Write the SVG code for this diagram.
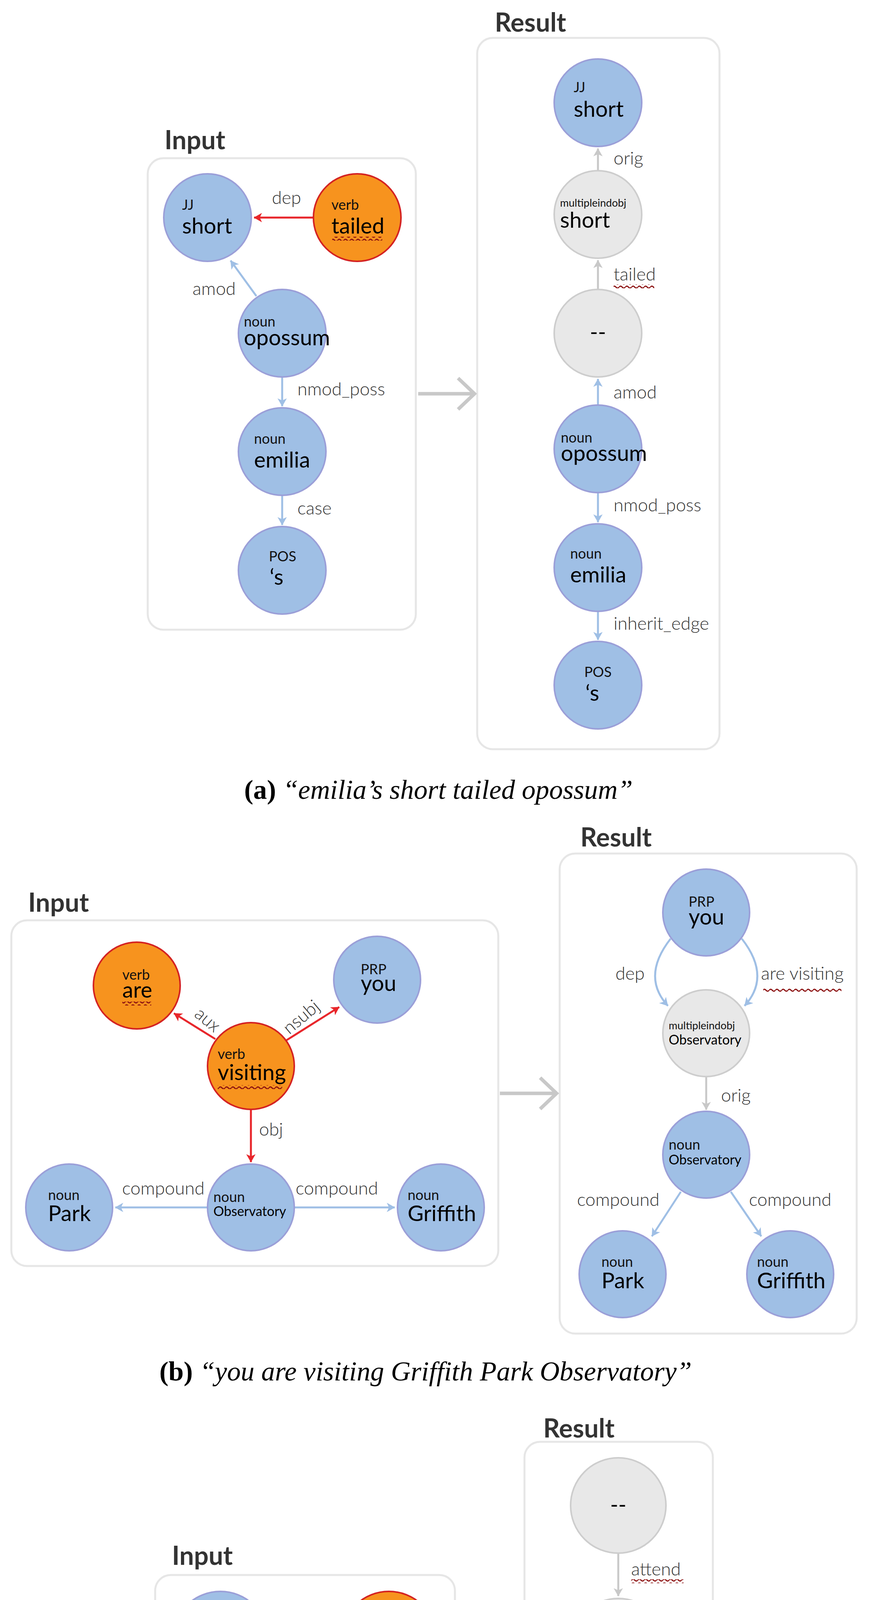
<svg xmlns="http://www.w3.org/2000/svg" width="2244" height="5572" viewBox="0 0 2244 5572">
<defs>
<style>
.bx{fill:#fff;stroke:#e6e6e6;stroke-width:5}
.ttl{font-family:Lato,"Liberation Sans",sans-serif;font-weight:bold;font-size:66px;fill:#333}
.u{fill:#9fbfe5;stroke:#9b9fd8;stroke-width:4}
.r{fill:#f7931e;stroke:#d42222;stroke-width:4}
.a{fill:#e8e8e8;stroke:#cdcdcd;stroke-width:4}
.ty{font-family:Lato,"Liberation Sans",sans-serif;font-size:36px;fill:#111}
.tm{font-family:Lato,"Liberation Sans",sans-serif;font-size:27px;fill:#111}
.w{font-family:Lato,"Liberation Sans",sans-serif;font-size:56px;fill:#000}
.ws{font-family:Lato,"Liberation Sans",sans-serif;font-size:34px;fill:#000}
.lb{font-family:Lato,"Liberation Sans",sans-serif;font-weight:300;font-size:46px;fill:#333}
.eb{stroke:#9fbfe5;stroke-width:5;fill:none}
.er{stroke:#e8262b;stroke-width:5;fill:none}
.eg{stroke:#c8c8c8;stroke-width:5;fill:none}
.big{stroke:#c8c8c8;stroke-width:9;fill:none}
.cap{font-family:"Liberation Serif",serif;font-size:70px;fill:#000}
.lg{font-family:Lato,"Liberation Sans",sans-serif;font-size:68px;fill:#111}
</style>
<marker id="mb" viewBox="0 0 10 10" refX="9" refY="5" markerWidth="7" markerHeight="7" orient="auto" markerUnits="userSpaceOnUse" overflow="visible"><path d="M-20,-12 L10,5 L-20,22 L-12,5 z" fill="#9fbfe5"/></marker>
<marker id="mr" viewBox="0 0 10 10" refX="9" refY="5" markerWidth="7" markerHeight="7" orient="auto" markerUnits="userSpaceOnUse" overflow="visible"><path d="M-20,-12 L10,5 L-20,22 L-12,5 z" fill="#e8262b"/></marker>
<marker id="mg" viewBox="0 0 10 10" refX="9" refY="5" markerWidth="7" markerHeight="7" orient="auto" markerUnits="userSpaceOnUse" overflow="visible"><path d="M-20,-12 L10,5 L-20,22 L-12,5 z" fill="#c8c8c8"/></marker>
<pattern id="wave" width="16" height="10" patternUnits="userSpaceOnUse"><path d="M0,5 Q4,0 8,5 T16,5" stroke="#8b1010" stroke-width="3" fill="none"/></pattern>
</defs>
<rect width="2244" height="5572" fill="#fff"/>

<!-- (a) -->
<g id="a-frames">
<text class="ttl" x="421" y="382">Input</text>
<rect class="bx" x="378" y="405" width="686" height="1207" rx="40"/>
<text class="ttl" x="1266" y="81">Result</text>
<rect class="bx" x="1221" y="97" width="620" height="1821" rx="40"/>
</g>
<g id="a-connectors">
<line class="er" x1="802" y1="557" x2="650" y2="557" marker-end="url(#mr)"/>
<line class="eb" x1="656" y1="758" x2="590" y2="667" marker-end="url(#mb)"/>
<line class="eb" x1="722" y1="965" x2="722" y2="1040" marker-end="url(#mb)"/>
<line class="eb" x1="722" y1="1268" x2="722" y2="1344" marker-end="url(#mb)"/>
<line class="eg" x1="1530" y1="437" x2="1530" y2="380" marker-end="url(#mg)"/>
<line class="eg" x1="1530" y1="741" x2="1530" y2="666" marker-end="url(#mg)"/>
<line class="eb" x1="1530" y1="1037" x2="1530" y2="970" marker-end="url(#mb)"/>
<line class="eb" x1="1530" y1="1261" x2="1530" y2="1337" marker-end="url(#mb)"/>
<line class="eb" x1="1530" y1="1565" x2="1530" y2="1638" marker-end="url(#mb)"/>
<text class="lb" x="733" y="522" text-anchor="middle">dep</text>
<text class="lb" x="548" y="755" text-anchor="middle">amod</text>
<text class="lb" x="761" y="1012">nmod_poss</text>
<text class="lb" x="761" y="1317">case</text>
<text class="lb" x="1570" y="421">orig</text>
<text class="lb" x="1570" y="718">tailed</text>
<rect x="1570" y="728" width="104" height="10" fill="url(#wave)"/>
<text class="lb" x="1570" y="1020">amod</text>
<text class="lb" x="1570" y="1309">nmod_poss</text>
<text class="lb" x="1570" y="1612">inherit_edge</text>
<line class="big" x1="1070" y1="1008" x2="1212" y2="1008"/>
<polyline class="big" points="1172,968 1214,1008 1172,1048"/>
</g>
<g id="a-in-short"><circle class="u" cx="531" cy="557" r="112"/><text class="ty" x="466" y="537">JJ</text><text class="w" x="466" y="598">short</text></g>
<g id="a-in-tailed"><circle class="r" cx="914" cy="557" r="112"/><text class="ty" x="848" y="537">verb</text><text class="w" x="848" y="598">tailed</text><rect x="850" y="606" width="128" height="10" fill="url(#wave)"/></g>
<g id="a-in-opossum"><circle class="u" cx="722" cy="853" r="112"/><text class="ty" x="624" y="836">noun</text><text class="w" x="624" y="884" font-size="50">opossum</text></g>
<g id="a-in-emilia"><circle class="u" cx="722" cy="1156" r="112"/><text class="ty" x="650" y="1136">noun</text><text class="w" x="650" y="1197">emilia</text></g>
<g id="a-in-pos"><circle class="u" cx="722" cy="1460" r="112"/><text class="ty" x="688" y="1437">POS</text><text class="w" x="690" y="1497">‘s</text></g>
<g id="a-res-short"><circle class="u" cx="1530" cy="263" r="112"/><text class="ty" x="1468" y="236">JJ</text><text class="w" x="1468" y="299">short</text></g>
<g id="a-res-mshort"><circle class="a" cx="1530" cy="549" r="112"/><text class="tm" x="1433" y="529">multipleindobj</text><text class="w" x="1433" y="583" font-size="52">short</text></g>
<g id="a-res-dash"><circle class="a" cx="1530" cy="853" r="112"/><text class="w" x="1530" y="870" text-anchor="middle">--</text></g>
<g id="a-res-opossum"><circle class="u" cx="1530" cy="1149" r="112"/><text class="ty" x="1435" y="1133">noun</text><text class="w" x="1435" y="1180" font-size="50">opossum</text></g>
<g id="a-res-emilia"><circle class="u" cx="1530" cy="1453" r="112"/><text class="ty" x="1459" y="1430">noun</text><text class="w" x="1459" y="1491">emilia</text></g>
<g id="a-res-pos"><circle class="u" cx="1530" cy="1754" r="112"/><text class="ty" x="1495" y="1733">POS</text><text class="w" x="1498" y="1794">‘s</text></g>
<text class="cap" x="1122" y="2045" text-anchor="middle"><tspan font-weight="bold">(a)</tspan> <tspan font-style="italic">“emilia’s short tailed opossum”</tspan></text>

<!-- (b) -->
<g id="b-frames">
<text class="ttl" x="72" y="2334">Input</text>
<rect class="bx" x="29" y="2356" width="1246" height="885" rx="40"/>
<text class="ttl" x="1485" y="2167">Result</text>
<rect class="bx" x="1432" y="2185" width="760" height="1229" rx="40"/>
</g>
<g id="b-connectors">
<line class="er" x1="551" y1="2660" x2="445" y2="2594" marker-end="url(#mr)"/>
<line class="er" x1="733" y1="2663" x2="868" y2="2578" marker-end="url(#mr)"/>
<line class="er" x1="642" y1="2840" x2="642" y2="2975" marker-end="url(#mr)"/>
<line class="eb" x1="531" y1="3091" x2="295" y2="3091" marker-end="url(#mb)"/>
<line class="eb" x1="753" y1="3091" x2="1010" y2="3091" marker-end="url(#mb)"/>
<path class="eb" d="M1716,2403 Q1640,2500 1709,2575" marker-end="url(#mb)"/>
<path class="eb" d="M1898,2403 Q1974,2500 1905,2575" marker-end="url(#mb)"/>
<line class="eg" x1="1807" y1="2758" x2="1807" y2="2841" marker-end="url(#mg)"/>
<line class="eb" x1="1742" y1="3051" x2="1668" y2="3165" marker-end="url(#mb)"/>
<line class="eb" x1="1870" y1="3051" x2="1948" y2="3165" marker-end="url(#mb)"/>
<text class="lb" x="531" y="2626" text-anchor="middle" transform="rotate(40 531 2611)">aux</text>
<text class="lb" x="771" y="2619" text-anchor="middle" transform="rotate(-40 771 2604)">nsubj</text>
<text class="lb" x="663" y="2907">obj</text>
<text class="lb" x="418" y="3058" text-anchor="middle">compound</text>
<text class="lb" x="862" y="3058" text-anchor="middle">compound</text>
<text class="lb" x="1612" y="2508" text-anchor="middle">dep</text>
<text class="lb" x="2053" y="2508" text-anchor="middle">are visiting</text>
<rect x="1953" y="2530" width="200" height="10" fill="url(#wave)"/>
<text class="lb" x="1845" y="2820">orig</text>
<text class="lb" x="1582" y="3087" text-anchor="middle">compound</text>
<text class="lb" x="2022" y="3087" text-anchor="middle">compound</text>
<line class="big" x1="1279" y1="2799" x2="1422" y2="2799"/>
<polyline class="big" points="1382,2759 1424,2799 1382,2839"/>
</g>
<g id="b-in-are"><circle class="r" cx="350" cy="2523" r="111"/><text class="ty" x="313" y="2508">verb</text><text class="w" x="313" y="2554">are</text><rect x="313" y="2564" width="74" height="10" fill="url(#wave)"/></g>
<g id="b-in-you"><circle class="u" cx="965" cy="2508" r="111"/><text class="ty" x="923" y="2494">PRP</text><text class="w" x="923" y="2537">you</text></g>
<g id="b-in-visiting"><circle class="r" cx="642" cy="2729" r="111"/><text class="ty" x="557" y="2711">verb</text><text class="w" x="557" y="2765">visiting</text><rect x="557" y="2778" width="165" height="10" fill="url(#wave)"/></g>
<g id="b-in-park"><circle class="u" cx="177" cy="3091" r="111"/><text class="ty" x="123" y="3072">noun</text><text class="w" x="123" y="3126" font-size="60">Park</text></g>
<g id="b-in-obs"><circle class="u" cx="642" cy="3091" r="111"/><text class="ty" x="546" y="3077">noun</text><text class="ws" x="546" y="3113">Observatory</text></g>
<g id="b-in-griffith"><circle class="u" cx="1128" cy="3091" r="111"/><text class="ty" x="1043" y="3072">noun</text><text class="w" x="1043" y="3126" font-size="60">Griffith</text></g>
<g id="b-res-you"><circle class="u" cx="1807" cy="2336" r="111"/><text class="ty" x="1762" y="2321">PRP</text><text class="w" x="1762" y="2367">you</text></g>
<g id="b-res-mobs"><circle class="a" cx="1807" cy="2645" r="111"/><text class="tm" x="1711" y="2635">multipleindobj</text><text class="ws" x="1711" y="2674">Observatory</text></g>
<g id="b-res-obs"><circle class="u" cx="1807" cy="2956" r="111"/><text class="ty" x="1711" y="2943">noun</text><text class="ws" x="1711" y="2981">Observatory</text></g>
<g id="b-res-park"><circle class="u" cx="1593" cy="3262" r="111"/><text class="ty" x="1539" y="3243">noun</text><text class="w" x="1539" y="3298" font-size="60">Park</text></g>
<g id="b-res-griffith"><circle class="u" cx="2022" cy="3262" r="111"/><text class="ty" x="1937" y="3243">noun</text><text class="w" x="1937" y="3298" font-size="60">Griffith</text></g>
<text class="cap" x="1089" y="3534" text-anchor="middle"><tspan font-weight="bold">(b)</tspan> <tspan font-style="italic">“you are visiting Griffith Park Observatory”</tspan></text>

<!-- (c) -->
<g id="c-frames">
<text class="ttl" x="440" y="4006">Input</text>
<rect class="bx" x="397" y="4032" width="767" height="659" rx="40"/>
<text class="ttl" x="1390" y="3680">Result</text>
<rect class="bx" x="1342" y="3691" width="482" height="1339" rx="40"/>
</g>
<g id="c-connectors">
<line class="er" x1="873" y1="4196" x2="698" y2="4196" marker-end="url(#mr)"/>
<line class="eb" x1="630" y1="4305" x2="712" y2="4418" marker-end="url(#mb)"/>
<line class="eg" x1="1582" y1="3977" x2="1582" y2="4086" marker-end="url(#mg)"/>
<line class="eg" x1="1582" y1="4338" x2="1582" y2="4412" marker-end="url(#mg)"/>
<line class="eb" x1="1582" y1="4662" x2="1582" y2="4739" marker-end="url(#mb)"/>
<text class="lb" x="795" y="4160" text-anchor="middle">obj</text>
<text class="lb" x="604" y="4395" text-anchor="middle">det</text>
<text class="lb" x="1615" y="4033">attend</text>
<rect x="1615" y="4043" width="134" height="10" fill="url(#wave)"/>
<text class="lb" x="1615" y="4391">orig</text>
<text class="lb" x="1615" y="4724">det</text>
<line class="big" x1="1168" y1="4360" x2="1328" y2="4360"/>
<polyline class="big" points="1288,4320 1330,4360 1288,4400"/>
</g>
<g id="c-in-interview"><circle class="u" cx="564" cy="4196" r="122"/><text class="ty" x="461" y="4177">noun</text><text class="w" x="461" y="4230" font-size="54">interview</text></g>
<g id="c-in-attend"><circle class="r" cx="995" cy="4196" r="122"/><text class="ty" x="908" y="4172">verb</text><text class="w" x="908" y="4230">attend</text><rect x="910" y="4250" width="170" height="10" fill="url(#wave)"/></g>
<g id="c-in-an"><circle class="u" cx="784" cy="4527" r="122"/><text class="ty" x="753" y="4505">det</text><text class="w" x="753" y="4561">an</text></g>
<g id="c-res-dash"><circle class="a" cx="1582" cy="3854" r="122"/><text class="w" x="1582" y="3872" text-anchor="middle">--</text></g>
<g id="c-res-minterview"><circle class="a" cx="1582" cy="4214" r="122"/><text class="tm" x="1477" y="4193">multipleindobj</text><text class="w" x="1477" y="4247" font-size="54">interview</text></g>
<g id="c-res-interview"><circle class="u" cx="1582" cy="4539" r="122"/><text class="ty" x="1478" y="4521">noun</text><text class="w" x="1478" y="4576" font-size="54">interview</text></g>
<g id="c-res-an"><circle class="u" cx="1582" cy="4866" r="122"/><text class="ty" x="1547" y="4842">det</text><text class="w" x="1547" y="4903">an</text></g>
<text class="cap" x="1089" y="5157" text-anchor="middle"><tspan font-weight="bold">(c)</tspan> <tspan font-style="italic">“attend an interview”</tspan></text>

<!-- (d) legend -->
<g id="legend">
<circle class="a" cx="177" cy="5373" r="53"/><text class="lg" x="257" y="5397">Added</text>
<circle class="r" cx="588" cy="5373" r="53"/><text class="lg" x="672" y="5397">Removed</text>
<circle class="u" cx="1084" cy="5373" r="53"/><text class="lg" x="1162" y="5397">Unchanged</text>
<path d="M1595,5352 C1615,5345 1625,5397 1645,5397 C1665,5397 1660,5352 1673,5352 C1688,5352 1695,5397 1712,5397 C1730,5397 1735,5352 1752,5352" stroke="#8b0a0a" stroke-width="13" fill="none"/>
<text class="lg" x="1788" y="5397">Transformed</text>
</g>
<text class="cap" x="1120" y="5552" text-anchor="middle"><tspan font-weight="bold">(d)</tspan> Key showing node colour meanings.</text>
</svg>
